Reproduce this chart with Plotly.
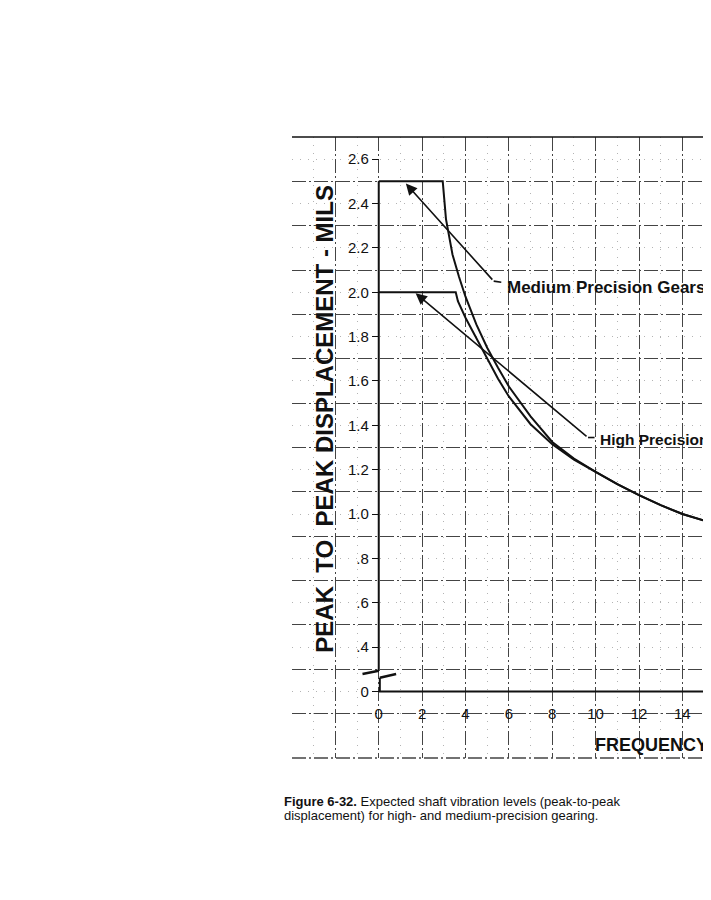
import plotly.graph_objects as go

# ---------------- data ----------------
freq_medium = [0.0, 2.95, 3.1, 3.4, 3.7, 4.0, 4.5, 5.0, 5.5, 6.0, 7.0, 8.0, 9.0, 10.0, 11.0, 12.0, 13.0, 14.0, 15.35]
disp_medium = [2.5, 2.5, 2.33, 2.17, 2.07, 1.98, 1.855, 1.75, 1.66, 1.575, 1.44, 1.325, 1.25, 1.19, 1.135, 1.085, 1.04, 1.0, 0.96]

freq_high = [0.0, 3.55, 3.65, 3.8, 4.0, 4.3, 4.65, 5.0, 5.5, 6.0, 7.0, 8.0, 9.0, 10.0, 11.0, 12.0, 13.0, 14.0, 15.35]
disp_high = [2.0, 2.0, 1.96, 1.925, 1.885, 1.83, 1.765, 1.70, 1.61, 1.53, 1.405, 1.315, 1.245, 1.19, 1.135, 1.085, 1.04, 1.0, 0.96]

x_major = [-4, -2, 0, 2, 4, 6, 8, 10, 12, 14]
x_labels = ["", "", "0", "2", "4", "6", "8", "10", "12", "14"]
x_minor = [-3, -1, 1, 3, 5, 7, 9, 11, 13, 15]

y_major = [0.2, 0.4, 0.6, 0.8, 1.0, 1.2, 1.4, 1.6, 1.8, 2.0, 2.2, 2.4, 2.6]
y_labels = ["0", ".4", ".6", ".8", "1.0", "1.2", "1.4", "1.6", "1.8", "2.0", "2.2", "2.4", "2.6"]
y_minor = [0.1, 0.3, 0.5, 0.7, 0.9, 1.1, 1.3, 1.5, 1.7, 1.9, 2.1, 2.3, 2.5]

X_RANGE = [-4, 15.32]
Y_RANGE = [-0.1, 2.7]
AXIS_Y = 0.2          # position of the (broken) zero line
AXIS_TOP = 2.5

# annotation anchor points (data units)
medium_tip = (1.25, 2.49)
medium_tail = (5.3, 2.05)
medium_label = (5.8, 2.02)
high_tip = (1.7, 1.995)
high_tail = (9.65, 1.345)
high_label = (10.1, 1.335)

INK = "#111111"
GRID = "#444444"
FAINT = "#b4b4b4"
GRID_DASH = "14px,3px,2px,3px"

fig = go.Figure()

fig.add_trace(go.Scatter(x=freq_medium, y=disp_medium, mode="lines",
                         line=dict(color=INK, width=2),
                         name="Medium Precision Gears", showlegend=False, hoverinfo="skip"))
fig.add_trace(go.Scatter(x=freq_high, y=disp_high, mode="lines",
                         line=dict(color=INK, width=2),
                         name="High Precision Gears", showlegend=False, hoverinfo="skip"))

pos_y_axis = (0 - X_RANGE[0]) / (X_RANGE[1] - X_RANGE[0])

# the page body has an 8px margin, so the figure is 703x884 and offset by 8px
fig.update_layout(
    width=703, height=884, autosize=False,
    margin=dict(l=284, r=0, t=129, b=134, pad=0),
    paper_bgcolor="white", plot_bgcolor="white",
    showlegend=False,
    xaxis=dict(range=X_RANGE, anchor="free", position=0.0886,
               tickmode="array", tickvals=x_major, ticktext=x_labels,
               ticks="", showline=False, zeroline=False,
               showgrid=True, gridcolor=GRID, gridwidth=1, griddash=GRID_DASH,
               tickfont=dict(family="Liberation Sans, Arial", size=15, color=INK),
               minor=dict(tickvals=x_minor, showgrid=True, gridcolor=FAINT,
                          gridwidth=1, griddash="1px,7px", ticks="")),
    yaxis=dict(range=Y_RANGE, anchor="free", position=pos_y_axis,
               tickmode="array", tickvals=y_major, ticktext=y_labels,
               ticks="outside", ticklen=7, tickcolor=INK, tickwidth=1,
               showline=False, zeroline=False,
               showgrid=True, gridcolor=FAINT, gridwidth=1, griddash="1px,7px",
               tickfont=dict(family="Liberation Sans, Arial", size=15, color=INK),
               minor=dict(tickvals=y_minor, showgrid=True, gridcolor=GRID,
                          gridwidth=1, griddash=GRID_DASH, ticks="")),
)

shapes = []
# frame
shapes.append(dict(type="line", xref="paper", yref="paper", x0=0, x1=1, y0=1, y1=1,
                   line=dict(color=INK, width=1.5)))
shapes.append(dict(type="line", xref="paper", yref="paper", x0=0, x1=1, y0=0, y1=0,
                   line=dict(color=GRID, width=1.5, dash=GRID_DASH)))
# x axis line (at the broken zero)
shapes.append(dict(type="line", xref="x", yref="y", x0=0, x1=X_RANGE[1], y0=AXIS_Y, y1=AXIS_Y,
                   line=dict(color=INK, width=2)))
# y axis line, with break
shapes.append(dict(type="line", xref="x", yref="y", x0=0, x1=0, y0=0.292, y1=AXIS_TOP,
                   line=dict(color=INK, width=2)))
shapes.append(dict(type="line", xref="x", yref="y", x0=0.05, x1=0.05, y0=AXIS_Y, y1=0.262,
                   line=dict(color=INK, width=2)))
shapes.append(dict(type="path", xref="x", yref="y",
                   path="M -0.75 0.279 L 0 0.293", line=dict(color=INK, width=2.5)))
shapes.append(dict(type="path", xref="x", yref="y",
                   path="M 0.05 0.262 L 0.8 0.279", line=dict(color=INK, width=2.5)))
# short horizontal leader stubs
shapes.append(dict(type="line", xref="x", yref="y", x0=medium_tail[0], x1=medium_label[0] - 0.15,
                   y0=medium_tail[1], y1=medium_tail[1] - 0.005, line=dict(color=INK, width=1.6)))
shapes.append(dict(type="line", xref="x", yref="y", x0=high_tail[0], x1=high_label[0] - 0.15,
                   y0=high_tail[1], y1=high_tail[1], line=dict(color=INK, width=1.6)))
fig.update_layout(shapes=shapes)

label_font = dict(family="Liberation Sans, Arial", size=17, color=INK)
title_font = dict(family="Liberation Sans, Arial", size=24, color=INK)

ann = []
# leader arrows
ann.append(dict(x=medium_tip[0], y=medium_tip[1], ax=medium_tail[0], ay=medium_tail[1],
                xref="x", yref="y", axref="x", ayref="y", text="", showarrow=True,
                arrowhead=2, arrowsize=1.4, arrowwidth=1.6, arrowcolor=INK, standoff=0))
ann.append(dict(x=high_tip[0], y=high_tip[1], ax=high_tail[0], ay=high_tail[1],
                xref="x", yref="y", axref="x", ayref="y", text="", showarrow=True,
                arrowhead=2, arrowsize=1.4, arrowwidth=1.6, arrowcolor=INK, standoff=0))
# curve labels
ann.append(dict(x=medium_label[0], y=medium_label[1], xref="x", yref="y",
                text="<b>Medium Precision Gears</b>", showarrow=False,
                xanchor="left", yanchor="middle", font=label_font))
ann.append(dict(x=high_label[0], y=high_label[1], xref="x", yref="y",
                text="<b>High Precision</b>", showarrow=False,
                xanchor="left", yanchor="middle", font=dict(family="Liberation Sans, Arial", size=15.5, color=INK)))
# axis titles
ann.append(dict(x=(325 - 292) / 419, y=1.43, xref="paper", yref="y",
                text="<b>PEAK  TO  PEAK DISPLACEMENT - MILS</b>", textangle=-90,
                showarrow=False, xanchor="center", yanchor="middle", font=title_font))
ann.append(dict(x=9.9, y=-0.04, xref="x", yref="y",
                text="<b>FREQUENCY</b>", showarrow=False,
                xanchor="left", yanchor="middle", font=dict(family="Liberation Sans, Arial", size=18, color=INK)))
# caption
ann.append(dict(x=(282 - 292) / 419, y=(758 - 792) / 621, xref="paper", yref="paper",
                text="<b>Figure 6-32.</b> Expected shaft vibration levels (peak-to-peak",
                showarrow=False, xanchor="left", yanchor="top",
                font=dict(family="Liberation Sans, Arial", size=13, color=INK)))
ann.append(dict(x=(282 - 292) / 419, y=(758 - 806) / 621, xref="paper", yref="paper",
                text="displacement) for high- and medium-precision gearing.",
                showarrow=False, xanchor="left", yanchor="top",
                font=dict(family="Liberation Sans, Arial", size=13, color=INK)))
fig.update_layout(annotations=ann)

fig.write_html("out.html")
